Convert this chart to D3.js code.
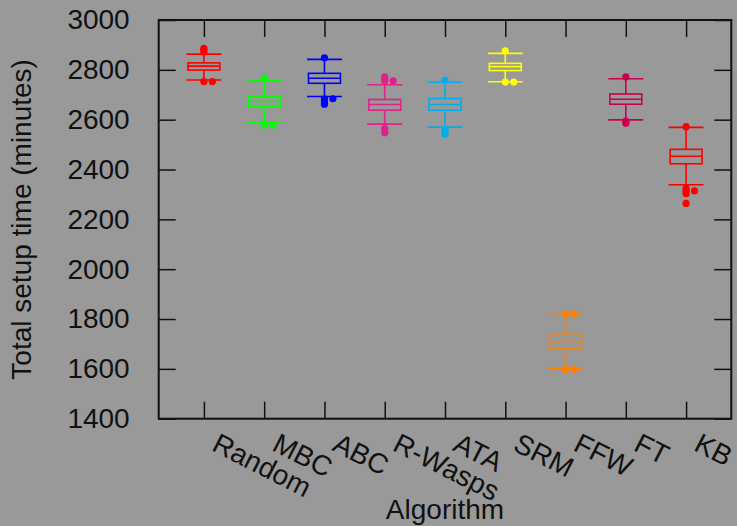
<!DOCTYPE html>
<html>
<head>
<meta charset="utf-8">
<script src="https://cdn.jsdelivr.net/npm/d3@7"></script>
<style>
  html, body { margin: 0; padding: 0; background: #999999; }
  svg { display: block; font-family: "Liberation Sans", Arial, sans-serif; }
  .axis path { display: none; }
  .axis line { stroke: #111; stroke-width: 1.5; }
  .axis text { fill: #111; font-size: 28px; }
</style>
</head>
<body>
<div id="chart"></div>
<script>
// chart values
const algorithms = ['Random', 'MBC', 'ABC', 'R-Wasps', 'ATA', 'SRM', 'FFW', 'FT', 'KB'];
const whiskerLow = [2759, 2587, 2693, 2582, 2570, 2752, 1601, 2599, 2339];
const quartile1 = [2799, 2652, 2746, 2638, 2638, 2797, 1680, 2662, 2423];
const medians = [2815, 2673, 2766, 2661, 2661, 2813, 1710, 2682, 2453];
const quartile3 = [2828, 2694, 2786, 2681, 2685, 2826, 1735, 2703, 2481];
const whiskerHigh = [2863, 2756, 2842, 2740, 2750, 2866, 1815, 2764, 2569];
const outliers = [
    [2886, 2878, 2872, 2753, 2753],
    [2767, 2579, 2579],
    [2848, 2684, 2684, 2672, 2662],
    [2772, 2764, 2756, 2756, 2564, 2548],
    [2759, 2558, 2550, 2543],
    [2876, 2751, 2751],
    [1821, 1821, 1599, 1597, 1597],
    [2772, 2594, 2586],
    [2572, 2324, 2314, 2314, 2303, 2264],
];
const yTicks = [1400, 1600, 1800, 2000, 2200, 2400, 2600, 2800, 3000];
const colors = ['#ff0000', '#00ff00', '#0000ff', '#e0218a', '#00aeef', '#ffff00', '#ff8000', '#c8004f', '#ff0000'];

const WIDTH = 737;
const HEIGHT = 526;
const PLOT = { LEFT: 158.7, RIGHT: 731.3, TOP: 20, BOTTOM: 418.7 };
const TICK = 17;

const svg = d3.select('#chart')
    .append('svg')
    .attr('width', WIDTH)
    .attr('height', HEIGHT);

const xScale = d3.scaleLinear()
    .domain([0.25, algorithms.length + 0.75])
    .range([PLOT.LEFT, PLOT.RIGHT]);

const yScale = d3.scaleLinear()
    .domain([1400, 3000])
    .range([PLOT.BOTTOM, PLOT.TOP]);

const positions = algorithms.map((d, i) => i + 1);

// axes (ticks point inward on all four sides)
svg.append('g')
    .attr('class', 'axis')
    .attr('transform', `translate(${PLOT.LEFT}, 0)`)
    .call(d3.axisLeft(yScale).tickValues(yTicks).tickSize(-TICK).tickPadding(29)
        .tickFormat(d3.format('d')));

svg.append('g')
    .attr('class', 'axis')
    .attr('transform', `translate(${PLOT.RIGHT}, 0)`)
    .call(d3.axisRight(yScale).tickValues(yTicks).tickSize(-TICK).tickFormat(''));

svg.append('g')
    .attr('class', 'axis')
    .attr('transform', `translate(0, ${PLOT.TOP})`)
    .call(d3.axisTop(xScale).tickValues(positions).tickSize(-TICK).tickFormat(''));

const xAxis = svg.append('g')
    .attr('class', 'axis')
    .attr('transform', `translate(0, ${PLOT.BOTTOM})`)
    .call(d3.axisBottom(xScale).tickValues(positions).tickSize(-TICK)
        .tickFormat((d) => algorithms[d - 1]));

xAxis.selectAll('.tick text')
    .attr('x', 0)
    .attr('y', 0)
    .attr('dy', null)
    .attr('text-anchor', 'start')
    .attr('transform', 'translate(6, 31) rotate(27)');

// frame
svg.append('rect')
    .attr('x', PLOT.LEFT)
    .attr('y', PLOT.TOP)
    .attr('width', PLOT.RIGHT - PLOT.LEFT)
    .attr('height', PLOT.BOTTOM - PLOT.TOP)
    .attr('fill', 'none')
    .attr('stroke', '#111')
    .attr('stroke-width', 2);

// axis titles
svg.append('text')
    .attr('x', 445)
    .attr('y', 519)
    .attr('text-anchor', 'middle')
    .attr('font-size', 28)
    .attr('fill', '#111')
    .text('Algorithm');

svg.append('text')
    .attr('transform', `translate(31, ${(PLOT.TOP + PLOT.BOTTOM) / 2}) rotate(-90)`)
    .attr('text-anchor', 'middle')
    .attr('font-size', 28)
    .attr('fill', '#111')
    .text('Total setup time (minutes)');

// box plots
const boxHalf = 0.265;
const capHalf = 0.29;
const dotShift = 0.14;

algorithms.forEach((name, i) => {
    const pos = positions[i];
    const color = colors[i];
    const g = svg.append('g')
        .attr('stroke', color)
        .attr('stroke-width', 1.6)
        .attr('fill', 'none');

    // whisker stems
    g.append('line')
        .attr('x1', xScale(pos)).attr('x2', xScale(pos))
        .attr('y1', yScale(whiskerLow[i])).attr('y2', yScale(quartile1[i]));
    g.append('line')
        .attr('x1', xScale(pos)).attr('x2', xScale(pos))
        .attr('y1', yScale(quartile3[i])).attr('y2', yScale(whiskerHigh[i]));

    // caps
    [whiskerLow[i], whiskerHigh[i]].forEach((v) => {
        g.append('line')
            .attr('x1', xScale(pos - capHalf)).attr('x2', xScale(pos + capHalf))
            .attr('y1', yScale(v)).attr('y2', yScale(v));
    });

    // box and median
    g.append('rect')
        .attr('x', xScale(pos - boxHalf))
        .attr('y', yScale(quartile3[i]))
        .attr('width', xScale(pos + boxHalf) - xScale(pos - boxHalf))
        .attr('height', yScale(quartile1[i]) - yScale(quartile3[i]));
    g.append('line')
        .attr('x1', xScale(pos - boxHalf)).attr('x2', xScale(pos + boxHalf))
        .attr('y1', yScale(medians[i])).attr('y2', yScale(medians[i]));

    // outliers; repeated values sit side by side
    const seen = new Map();
    const pts = outliers[i].map((v) => {
        const k = seen.get(v) || 0;
        seen.set(v, k + 1);
        return { v, k };
    });
    svg.append('g')
        .selectAll('circle')
        .data(pts)
        .join('circle')
        .attr('cx', (d) => xScale(pos + d.k * dotShift))
        .attr('cy', (d) => yScale(d.v))
        .attr('r', 3.6)
        .attr('fill', color);
});
</script>
</body>
</html>
